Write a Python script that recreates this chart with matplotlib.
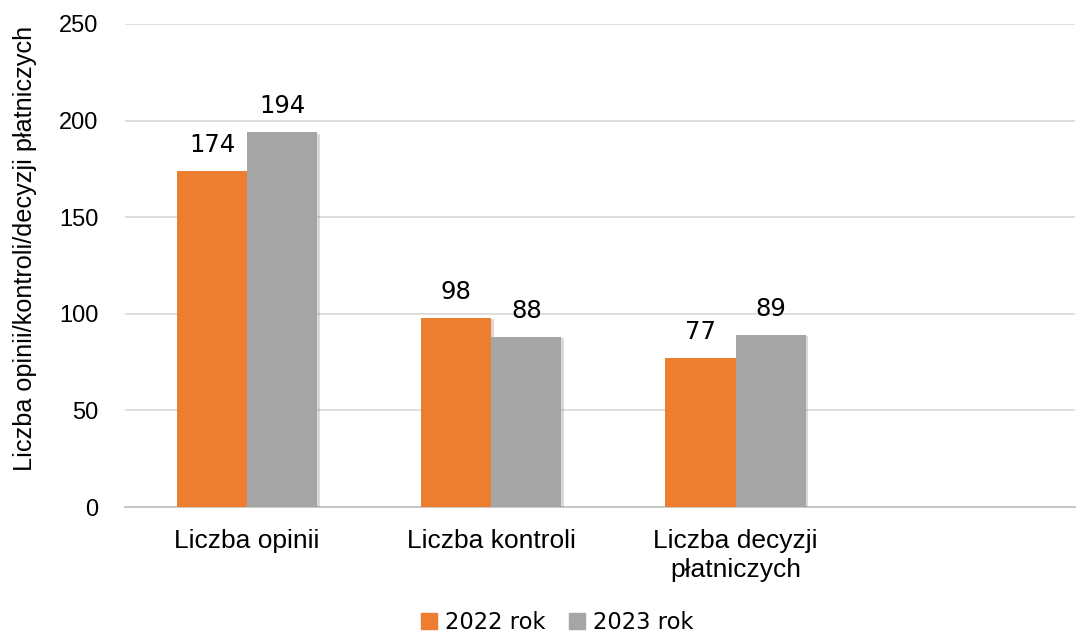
import numpy as np
import matplotlib.pyplot as plt
import matplotlib.patheffects as pe
from matplotlib.patches import Patch

categories = ['Liczba opinii', 'Liczba kontroli', 'Liczba decyzji\npłatniczych']
series_names = ['2022 rok', '2023 rok']
values_2022 = [174, 98, 77]
values_2023 = [194, 88, 89]
colors = ['#ED7D31', '#A5A5A5']

fig = plt.figure(figsize=(10.86, 6.34), dpi=100)
ax = fig.add_axes([0.115, 0.2003, 0.875, 0.762])

x = np.arange(len(categories))
w = 0.287
shadow = [pe.SimplePatchShadow(offset=(2, -1), alpha=0.18), pe.Normal()]
bars1 = ax.bar(x - w / 2, values_2022, w, color=colors[0], path_effects=shadow, zorder=3)
bars2 = ax.bar(x + w / 2, values_2023, w, color=colors[1], path_effects=shadow, zorder=3)

for bars in (bars1, bars2):
    for b in bars:
        ax.annotate(f'{b.get_height():.0f}', (b.get_x() + b.get_width() / 2, b.get_height()),
                    xytext=(0, 10), textcoords='offset points', ha='center', va='bottom',
                    fontsize=17.5, family='DejaVu Sans', color='black')

ax.set_xlim(-0.5, 3.39)
ax.set_ylim(0, 250)
ax.set_yticks(range(0, 251, 50))
ax.yaxis.grid(True, color='#D9D9D9', linewidth=1.2, zorder=0)
ax.set_axisbelow(True)
for s in ['top', 'right', 'left']:
    ax.spines[s].set_visible(False)
ax.spines['bottom'].set_color('#BFBFBF')
ax.spines['bottom'].set_linewidth(1.2)
ax.tick_params(axis='both', length=0)
ax.tick_params(axis='y', pad=19, labelsize=17)
ax.set_xticks(x)
ax.set_xticklabels(categories, fontsize=19, family='Liberation Sans', linespacing=1.25)
ax.tick_params(axis='x', pad=16)
for t in ax.get_yticklabels():
    t.set_family('Liberation Sans')

ax.set_ylabel('Liczba opinii/kontroli/decyzji płatniczych', fontsize=18.2,
              family='Liberation Sans')
ax.yaxis.set_label_coords(-0.093, 0.536)

handles = [Patch(color=c) for c in colors]
fig.legend(handles=handles, labels=series_names, loc='center',
           bbox_to_anchor=(0.513, 0.018), ncol=2, frameon=False,
           handlelength=0.7, handleheight=0.7, handletextpad=0.35, columnspacing=1.05,
           prop={'family': 'DejaVu Sans', 'size': 16.3})

fig.savefig('out.png', dpi=100)
